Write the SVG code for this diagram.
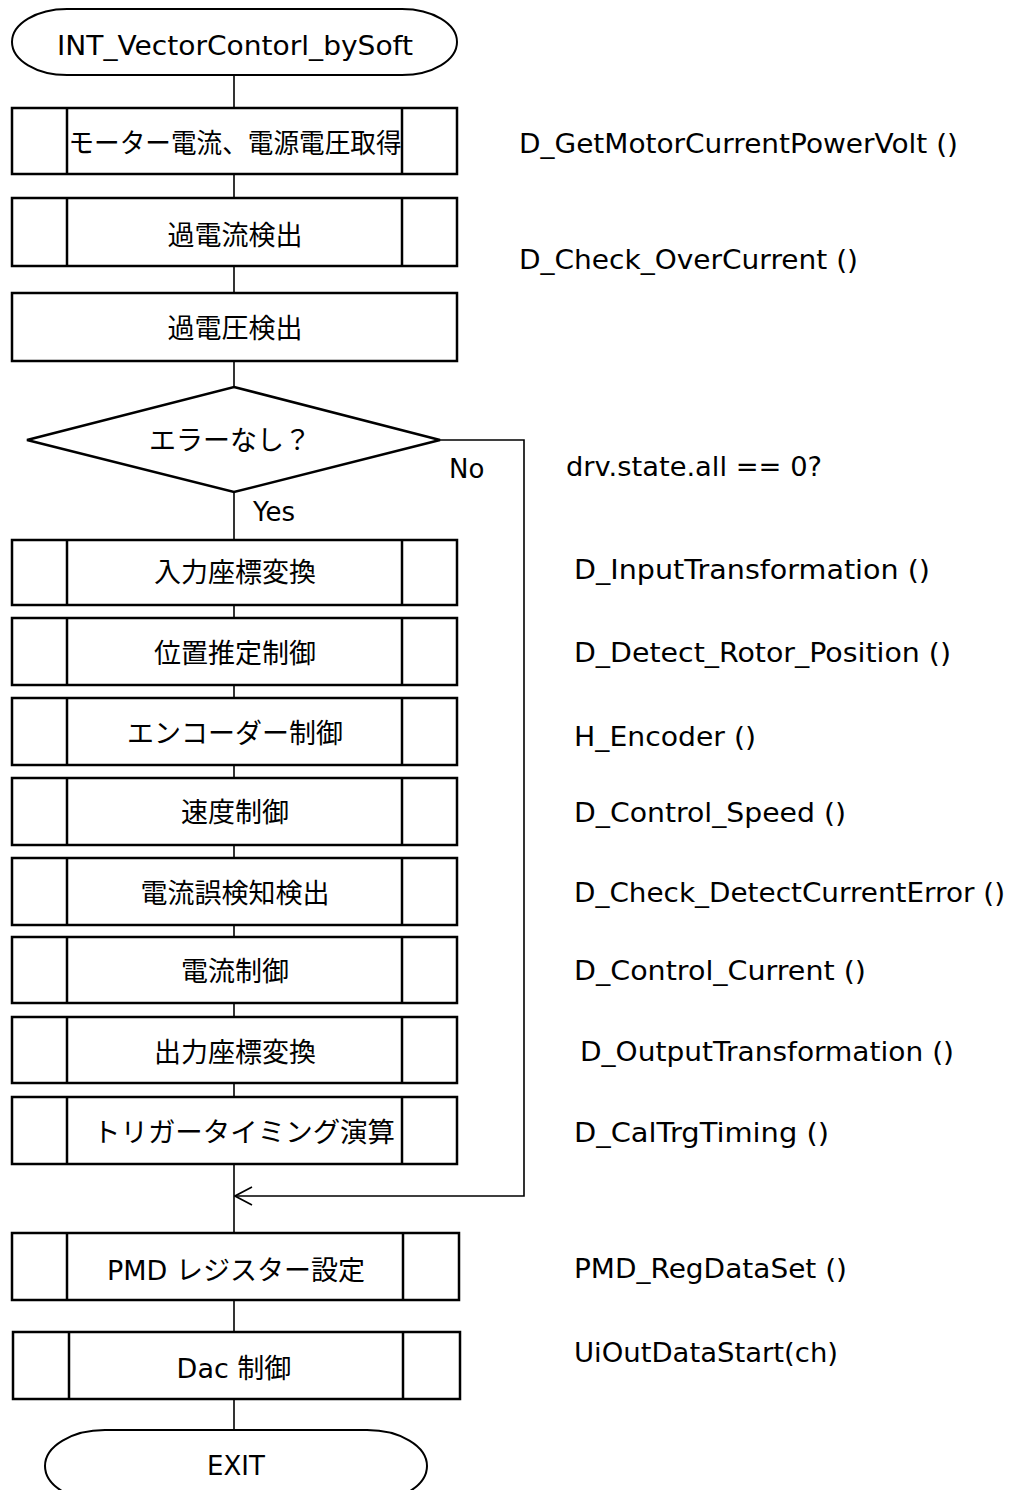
<svg xmlns="http://www.w3.org/2000/svg" width="1009" height="1490" viewBox="0 0 1009 1490">
<style>
.bg{fill:#fff}
.box{fill:#fff;stroke:#000;stroke-width:2.5}
.inner{stroke:#000;stroke-width:2.5}
.term{fill:#fff;stroke:#000;stroke-width:2}
.con{fill:none;stroke:#000;stroke-width:1.6}
.jp{font-family:"DejaVu Sans","Noto Sans CJK JP",sans-serif;font-size:27px;fill:#000;text-anchor:middle}
.lat{font-family:"DejaVu Sans","Noto Sans CJK JP",sans-serif;font-size:26px;fill:#000}
.latc{font-family:"DejaVu Sans","Noto Sans CJK JP",sans-serif;font-size:26px;fill:#000;text-anchor:middle}
</style>
<defs>
<marker id="open" viewBox="0 0 20 22" refX="19" refY="11" markerWidth="20" markerHeight="22" markerUnits="userSpaceOnUse" orient="auto">
<path d="M2,2 L19,11 L2,20" fill="none" stroke="#000" stroke-width="1.6"/>
</marker>
</defs>
<rect class="bg" x="0" y="0" width="1009" height="1490"/>
<g id="connectors">
<line class="con" x1="234" y1="75" x2="234" y2="108"/>
<line class="con" x1="234" y1="174" x2="234" y2="198"/>
<line class="con" x1="234" y1="266" x2="234" y2="293"/>
<line class="con" x1="234" y1="361" x2="234" y2="387"/>
<line class="con" x1="234" y1="492" x2="234" y2="540"/>
<line class="con" x1="234" y1="605" x2="234" y2="618"/>
<line class="con" x1="234" y1="685" x2="234" y2="698"/>
<line class="con" x1="234" y1="765" x2="234" y2="778"/>
<line class="con" x1="234" y1="845" x2="234" y2="858"/>
<line class="con" x1="234" y1="925" x2="234" y2="937"/>
<line class="con" x1="234" y1="1003" x2="234" y2="1017"/>
<line class="con" x1="234" y1="1083" x2="234" y2="1097"/>
<line class="con" x1="234" y1="1164" x2="234" y2="1233"/>
<line class="con" x1="234" y1="1300" x2="234" y2="1332"/>
<line class="con" x1="234" y1="1399" x2="234" y2="1430"/>
<path class="con" d="M440,440 H524 V1196 H235" marker-end="url(#open)"/>
<text class="lat" x="449" y="478">No</text>
<text class="lat" x="253" y="521">Yes</text>
</g>
<g id="start">
<rect class="term" x="12" y="9" width="445" height="66" rx="55" ry="33"/>
<text class="latc" x="235" y="55" textLength="356" lengthAdjust="spacingAndGlyphs">INT_VectorContorl_bySoft</text>
</g>
<g id="n1">
<rect class="box" x="12" y="108" width="445" height="66"/>
<line class="inner" x1="67" y1="108" x2="67" y2="174"/><line class="inner" x1="402" y1="108" x2="402" y2="174"/>
<text class="jp" x="235" y="153" textLength="333" lengthAdjust="spacingAndGlyphs">モーター電流、電源電圧取得</text>
</g>
<g id="n2">
<rect class="box" x="12" y="198" width="445" height="68"/>
<line class="inner" x1="67" y1="198" x2="67" y2="266"/><line class="inner" x1="402" y1="198" x2="402" y2="266"/>
<text class="jp" x="235" y="245">過電流検出</text>
</g>
<g id="n3">
<rect class="box" x="12" y="293" width="445" height="68"/>
<text class="jp" x="235" y="338">過電圧検出</text>
</g>
<g id="d1">
<polygon class="box" points="234,387 440,440 234,492 27,440"/>
<text class="jp" x="230" y="450">エラーなし？</text>
</g>
<g id="n4">
<rect class="box" x="12" y="540" width="445" height="65"/>
<line class="inner" x1="67" y1="540" x2="67" y2="605"/><line class="inner" x1="402" y1="540" x2="402" y2="605"/>
<text class="jp" x="235" y="582">入力座標変換</text>
</g>
<g id="n5">
<rect class="box" x="12" y="618" width="445" height="67"/>
<line class="inner" x1="67" y1="618" x2="67" y2="685"/><line class="inner" x1="402" y1="618" x2="402" y2="685"/>
<text class="jp" x="235" y="663">位置推定制御</text>
</g>
<g id="n6">
<rect class="box" x="12" y="698" width="445" height="67"/>
<line class="inner" x1="67" y1="698" x2="67" y2="765"/><line class="inner" x1="402" y1="698" x2="402" y2="765"/>
<text class="jp" x="235" y="743">エンコーダー制御</text>
</g>
<g id="n7">
<rect class="box" x="12" y="778" width="445" height="67"/>
<line class="inner" x1="67" y1="778" x2="67" y2="845"/><line class="inner" x1="402" y1="778" x2="402" y2="845"/>
<text class="jp" x="235" y="822">速度制御</text>
</g>
<g id="n8">
<rect class="box" x="12" y="858" width="445" height="67"/>
<line class="inner" x1="67" y1="858" x2="67" y2="925"/><line class="inner" x1="402" y1="858" x2="402" y2="925"/>
<text class="jp" x="235" y="903">電流誤検知検出</text>
</g>
<g id="n9">
<rect class="box" x="12" y="937" width="445" height="66"/>
<line class="inner" x1="67" y1="937" x2="67" y2="1003"/><line class="inner" x1="402" y1="937" x2="402" y2="1003"/>
<text class="jp" x="235" y="981">電流制御</text>
</g>
<g id="n10">
<rect class="box" x="12" y="1017" width="445" height="66"/>
<line class="inner" x1="67" y1="1017" x2="67" y2="1083"/><line class="inner" x1="402" y1="1017" x2="402" y2="1083"/>
<text class="jp" x="235" y="1062">出力座標変換</text>
</g>
<g id="n11">
<rect class="box" x="12" y="1097" width="445" height="67"/>
<line class="inner" x1="67" y1="1097" x2="67" y2="1164"/><line class="inner" x1="402" y1="1097" x2="402" y2="1164"/>
<text class="jp" x="244" y="1142" textLength="302" lengthAdjust="spacingAndGlyphs">トリガータイミング演算</text>
</g>
<g id="n12">
<rect class="box" x="12" y="1233" width="447" height="67"/>
<line class="inner" x1="67" y1="1233" x2="67" y2="1300"/><line class="inner" x1="403" y1="1233" x2="403" y2="1300"/>
<text class="jp" x="236" y="1280">PMD レジスター設定</text>
</g>
<g id="n13">
<rect class="box" x="13" y="1332" width="447" height="67"/>
<line class="inner" x1="69" y1="1332" x2="69" y2="1399"/><line class="inner" x1="403" y1="1332" x2="403" y2="1399"/>
<text class="jp" x="234" y="1378">Dac 制御</text>
</g>
<g id="end">
<rect class="term" x="45" y="1430" width="382" height="72" rx="60" ry="36"/>
<text class="latc" x="236" y="1475">EXIT</text>
</g>
<g id="labels">
<text class="lat" x="519" y="153" textLength="439" lengthAdjust="spacingAndGlyphs">D_GetMotorCurrentPowerVolt ()</text>
<text class="lat" x="519" y="269" textLength="339" lengthAdjust="spacingAndGlyphs">D_Check_OverCurrent ()</text>
<text class="lat" x="566" y="476" textLength="256" lengthAdjust="spacingAndGlyphs">drv.state.all == 0?</text>
<text class="lat" x="574" y="579" textLength="356" lengthAdjust="spacingAndGlyphs">D_InputTransformation ()</text>
<text class="lat" x="574" y="662" textLength="377" lengthAdjust="spacingAndGlyphs">D_Detect_Rotor_Position ()</text>
<text class="lat" x="574" y="746" textLength="182" lengthAdjust="spacingAndGlyphs">H_Encoder ()</text>
<text class="lat" x="574" y="822" textLength="272" lengthAdjust="spacingAndGlyphs">D_Control_Speed ()</text>
<text class="lat" x="574" y="902" textLength="431" lengthAdjust="spacingAndGlyphs">D_Check_DetectCurrentError ()</text>
<text class="lat" x="574" y="980" textLength="292" lengthAdjust="spacingAndGlyphs">D_Control_Current ()</text>
<text class="lat" x="580" y="1061" textLength="374" lengthAdjust="spacingAndGlyphs">D_OutputTransformation ()</text>
<text class="lat" x="574" y="1142" textLength="255" lengthAdjust="spacingAndGlyphs">D_CalTrgTiming ()</text>
<text class="lat" x="574" y="1278" textLength="273" lengthAdjust="spacingAndGlyphs">PMD_RegDataSet ()</text>
<text class="lat" x="574" y="1362" textLength="264" lengthAdjust="spacingAndGlyphs">UiOutDataStart(ch)</text>
</g>
</svg>
